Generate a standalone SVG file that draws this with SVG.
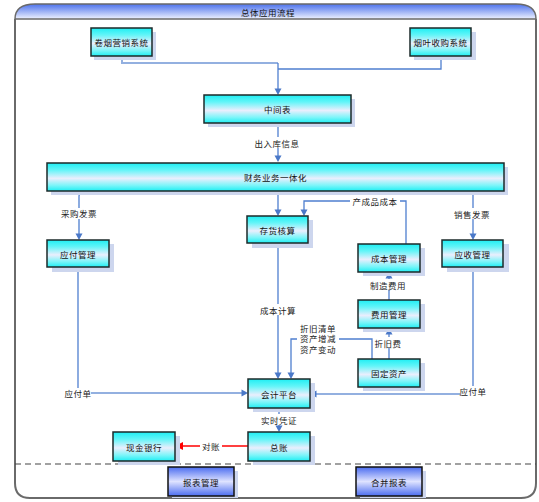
<svg xmlns="http://www.w3.org/2000/svg" width="539" height="502" viewBox="0 0 539 502">
<defs>
<linearGradient id="cy" x1="0" y1="0" x2="0" y2="1">
<stop offset="0" stop-color="#1eeef3"/>
<stop offset="0.25" stop-color="#63f5f8"/>
<stop offset="0.55" stop-color="#eaeefd"/>
<stop offset="0.8" stop-color="#7cf5f9"/>
<stop offset="1" stop-color="#1eeef3"/>
</linearGradient>
<linearGradient id="bl" x1="0" y1="0" x2="0" y2="1">
<stop offset="0" stop-color="#4a6cf0"/>
<stop offset="0.5" stop-color="#dfe3ff"/>
<stop offset="1" stop-color="#4a6cf0"/>
</linearGradient>
<linearGradient id="hd" x1="0" y1="0" x2="0" y2="1">
<stop offset="0" stop-color="#4d72ec"/>
<stop offset="1" stop-color="#eef2ff"/>
</linearGradient>
<path id="ad" d="M-3.5,-6.5 L3.5,-6.5 L0,0 Z" fill="#4a78c8"/>
<path id="au" d="M-3.5,6.5 L3.5,6.5 L0,0 Z" fill="#4a78c8"/>
<path id="arr" d="M-6.5,-3.5 L-6.5,3.5 L0,0 Z" fill="#4a78c8"/>
<path id="al" d="M6.5,-3.5 L6.5,3.5 L0,0 Z" fill="#4a78c8"/>
<path id="alr" d="M8,-4 L8,4 L0,0 Z" fill="#ff0000"/>
</defs>
<style>
.sh{fill:#cdd6ee}
.bx{fill:url(#cy);stroke:#1c2a2a;stroke-width:1.5}
.bb{fill:url(#bl);stroke:#111;stroke-width:1.5}
.t{font-family:"Noto Sans CJK SC","Liberation Sans",sans-serif;font-size:8.5px;fill:#111;text-anchor:middle;dominant-baseline:central;letter-spacing:0.5px}
.l{font-family:"Noto Sans CJK SC","Liberation Sans",sans-serif;font-size:8.5px;fill:#222;text-anchor:middle;dominant-baseline:central;letter-spacing:0.5px}
.c{fill:none;stroke:#4f7fcf;stroke-width:1.3}
.cl{fill:none;stroke:#93b0e0;stroke-width:2}
.w{fill:#fff}
</style>
<rect width="539" height="502" fill="#fff"/>
<g id="frame">
<path d="M15,19 C15,9 22,4 35,4 H516 C529,4 536,9 536,19 Z" fill="url(#hd)" stroke="#6a6a6a" stroke-width="1.5"/>
<path d="M15,19 V483 Q15,498 30,498 H521 Q536,498 536,483 V19" fill="none" stroke="#6a6a6a" stroke-width="2"/>
<text class="t" x="268" y="12">总体应用流程</text>
<line x1="15" y1="464" x2="536" y2="464" stroke="#444" stroke-width="1.2" stroke-dasharray="6,4"/>
</g>
<g id="connectors">
<path class="cl" d="M122,56 V63 H278"/>
<path class="c" d="M441,56 V69 H278"/>
<path class="c" d="M278,63 V90"/>
<use href="#ad" x="278" y="95"/>
<path class="c" d="M278,123 V157"/>
<use href="#ad" x="278" y="162"/>
<rect class="w" x="253" y="137" width="48" height="11"/>
<text class="l" x="277" y="142.5">出入库信息</text>
<path class="c" d="M80,191 L79,196 V235"/>
<use href="#ad" x="79" y="240"/>
<rect class="w" x="58" y="208" width="42" height="11"/>
<text class="l" x="79" y="213">采购发票</text>
<path class="c" d="M278,191 V211"/>
<use href="#ad" x="278" y="216"/>
<path class="c" d="M406,244 V201 H304 V211"/>
<use href="#ad" x="304" y="216"/>
<rect class="w" x="350" y="195" width="50" height="11"/>
<text class="l" x="375" y="200.5">产成品成本</text>
<path class="c" d="M473,191 V235"/>
<use href="#ad" x="473" y="240"/>
<rect class="w" x="451" y="208" width="42" height="11"/>
<text class="l" x="472" y="214">销售发票</text>
<path class="c" d="M389,300 V277"/>
<use href="#au" x="389" y="272"/>
<rect class="w" x="367" y="279" width="42" height="11"/>
<text class="l" x="388" y="285">制造费用</text>
<path class="c" d="M389,359 V333"/>
<use href="#au" x="389" y="328"/>
<rect class="w" x="372" y="337" width="32" height="11"/>
<text class="l" x="388" y="343">折旧费</text>
<path class="c" d="M372,359 V339 H291 V374"/>
<use href="#ad" x="291" y="379"/>
<rect class="w" x="297" y="322" width="42" height="32"/>
<text class="l" x="318" y="327.5">折旧清单</text>
<text class="l" x="318" y="338">资产增减</text>
<text class="l" x="318" y="348.5">资产变动</text>
<path class="c" d="M278,243 V374"/>
<use href="#ad" x="278" y="379"/>
<rect class="w" x="257" y="304" width="42" height="11"/>
<text class="l" x="278" y="310">成本计算</text>
<path class="c" d="M78,267 V388"/>
<path class="cl" d="M91,393 H243"/>
<use href="#arr" x="248" y="393"/>
<text class="l" x="78" y="393">应付单</text>
<path class="c" d="M473,267 V386"/>
<path class="cl" d="M460,394 H316"/>
<use href="#al" x="310" y="394"/>
<text class="l" x="473" y="391">应付单</text>
<path class="c" d="M279,408 V427"/>
<use href="#ad" x="279" y="432"/>
<rect class="w" x="258" y="414" width="42" height="11"/>
<text class="l" x="279" y="419.5">实时凭证</text>
<path d="M248,446 H182" fill="none" stroke="#ff0000" stroke-width="1.3"/>
<use href="#alr" x="175" y="446"/>
<rect class="w" x="200" y="440" width="22" height="11"/>
<text class="l" x="211" y="446">对账</text>
</g>
<g id="n1"><rect class="sh" x="94" y="32" width="62" height="28"/><rect class="bx" x="91" y="28" width="61" height="28"/><text class="t" x="121.5" y="42">卷烟营销系统</text></g>
<g id="n2"><rect class="sh" x="414" y="32" width="62" height="28"/><rect class="bx" x="410" y="28" width="61" height="28"/><text class="t" x="440.5" y="42">烟叶收购系统</text></g>
<g id="n3"><rect class="sh" x="208" y="99" width="147" height="28"/><rect class="bx" x="204" y="95" width="147" height="28"/><text class="t" x="277.5" y="109">中间表</text></g>
<g id="n4"><rect class="sh" x="51" y="167" width="457" height="28"/><rect class="bx" x="47" y="163" width="457" height="28"/><text class="t" x="275.5" y="177">财务业务一体化</text></g>
<g id="n5"><rect class="sh" x="52" y="244" width="62" height="28"/><rect class="bx" x="47" y="240" width="62" height="27"/><text class="t" x="78" y="253.5">应付管理</text></g>
<g id="n6"><rect class="sh" x="252" y="220" width="61" height="28"/><rect class="bx" x="247" y="216" width="61" height="27"/><text class="t" x="277.5" y="229.5">存货核算</text></g>
<g id="n7"><rect class="sh" x="363" y="248" width="62" height="28"/><rect class="bx" x="358" y="244" width="62" height="28"/><text class="t" x="389" y="258">成本管理</text></g>
<g id="n8"><rect class="sh" x="447" y="244" width="62" height="28"/><rect class="bx" x="442" y="240" width="61" height="27"/><text class="t" x="472.5" y="253.5">应收管理</text></g>
<g id="n9"><rect class="sh" x="363" y="304" width="62" height="28"/><rect class="bx" x="358" y="300" width="62" height="28"/><text class="t" x="389" y="314">费用管理</text></g>
<g id="n10"><rect class="sh" x="363" y="363" width="62" height="28"/><rect class="bx" x="358" y="359" width="62" height="28"/><text class="t" x="389" y="373">固定资产</text></g>
<g id="n11"><rect class="sh" x="253" y="383" width="62" height="29"/><rect class="bx" x="248" y="379" width="62" height="29"/><text class="t" x="279" y="393.5">会计平台</text></g>
<g id="n12"><rect class="sh" x="253" y="436" width="62" height="29"/><rect class="bx" x="248" y="432" width="62" height="29"/><text class="t" x="279" y="446.5">总账</text></g>
<g id="n13"><rect class="sh" x="118" y="436" width="62" height="29"/><rect class="bx" x="113" y="432" width="62" height="29"/><text class="t" x="144" y="446.5">现金银行</text></g>
<g id="n14"><rect class="sh" x="172" y="471" width="66" height="27"/><rect class="bb" x="168" y="467" width="66" height="29"/><text class="t" x="201" y="481.5">报表管理</text></g>
<g id="n15"><rect class="sh" x="360" y="471" width="66" height="27"/><rect class="bb" x="356" y="467" width="66" height="29"/><text class="t" x="389" y="481.5">合并报表</text></g>
</svg>
